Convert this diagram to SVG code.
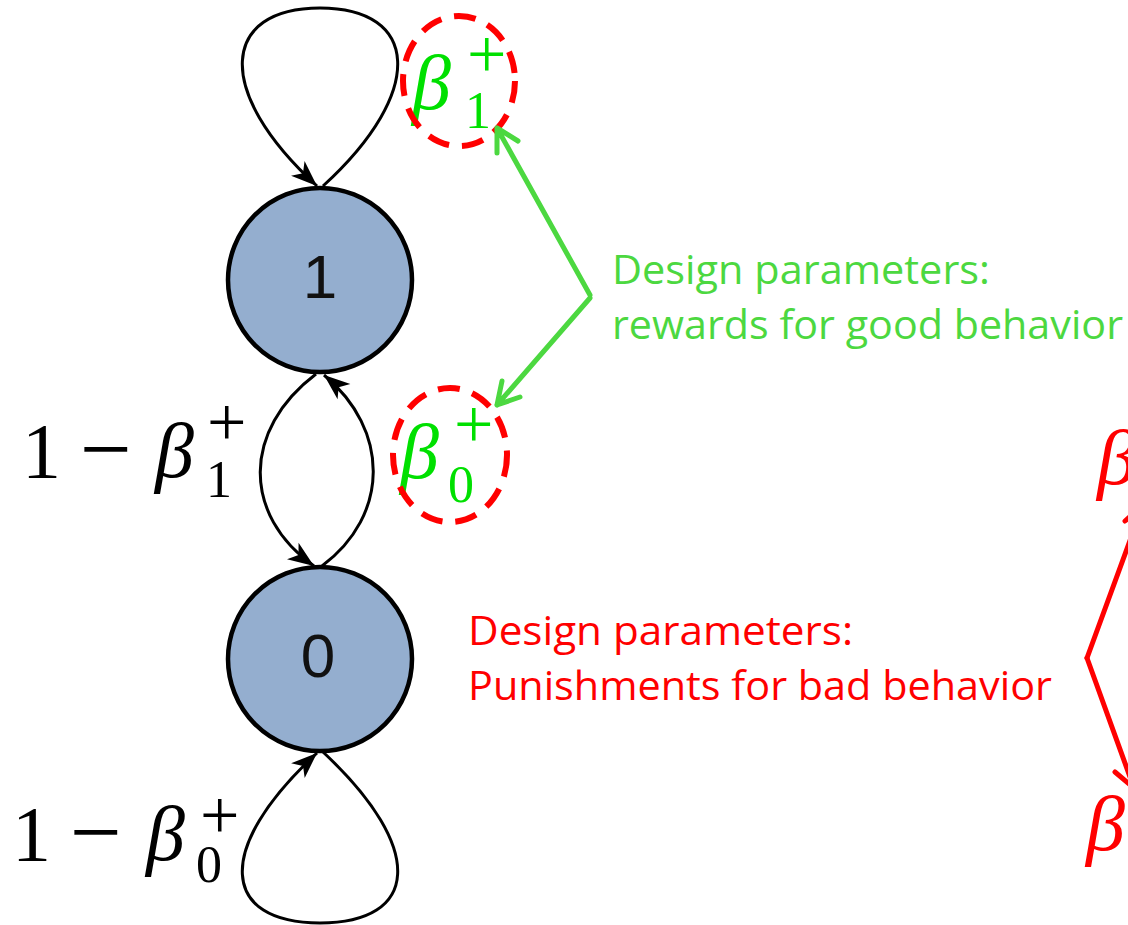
<svg xmlns="http://www.w3.org/2000/svg" width="1128" height="925" viewBox="0 0 1128 925">
  <style>
    .node circle { fill: #94AECF; stroke: #000; stroke-width: 4.5; }
    .node text { font-family: "Liberation Sans", Arial, sans-serif; font-size: 62px; fill: #111; text-anchor: middle; }
    .edge { fill: none; stroke: #000; stroke-width: 3; }
    .tex { font-family: "Liberation Serif", "Times New Roman", serif; fill: #000; }
    .it { font-style: italic; }
    .big { font-size: 78px; }
    .minus { font-size: 92px; }
    .sub { font-size: 52px; }
    .sup { font-size: 70px; }
    .g { fill: #00E000; }
    .r { fill: #FF0000; }
    .ring { fill: none; stroke: #FF0000; stroke-width: 6; stroke-dasharray: 22 13; }
    .note { font-family: "Open Sans", "Noto Sans", sans-serif; font-size: 41px; }
    .gline { stroke: #4CD840; stroke-width: 5; fill: none; stroke-linecap: round; stroke-linejoin: round; }
    .rline { stroke: #FF0000; stroke-width: 5; fill: none; stroke-linecap: round; stroke-linejoin: round; }
  </style>
  <defs>
    <marker id="head" markerUnits="userSpaceOnUse" viewBox="-28 -12 30 24" refX="0" refY="0" markerWidth="30" markerHeight="24" orient="auto">
      <path d="M0,0 L-26,-10 L-19,0 L-26,10 Z" fill="#000"/>
    </marker>
  </defs>

  <!-- state transitions -->
  <g id="connectors">
    <path class="edge" d="M323,186 C428,90 418,8 320,8 C222,8 212,90 317,186" marker-end="url(#head)"/>
    <path class="edge" d="M316,374 C242,430 242,515 314,566" marker-end="url(#head)"/>
    <path class="edge" d="M322,566 C390,515 390,430 324,375" marker-end="url(#head)"/>
    <path class="edge" d="M323,752 C428,850 418,923 320,923 C222,923 212,850 317,753" marker-end="url(#head)"/>
  </g>

  <g id="node-1" class="node">
    <circle cx="320" cy="280" r="92"/>
    <text x="320" y="298">1</text>
  </g>
  <g id="node-0" class="node">
    <circle cx="320" cy="659" r="92"/>
    <text x="318" y="677">0</text>
  </g>

  <!-- transition probability labels -->
  <g id="label-stay-1">
    <text class="tex big" x="22" y="477">1</text>
    <text class="tex minus" x="80" y="480">−</text>
    <text class="tex big it" x="155" y="477">β</text>
    <text class="tex sub" x="206" y="497">1</text>
    <text class="tex sup" x="207" y="446">+</text>
  </g>
  <g id="label-stay-0">
    <text class="tex big" x="12" y="860">1</text>
    <text class="tex minus" x="70" y="863">−</text>
    <text class="tex big it" x="146" y="860">β</text>
    <text class="tex sub" x="196" y="882">0</text>
    <text class="tex sup" x="200" y="839">+</text>
  </g>
  <g id="label-beta1">
    <text class="tex big it g" x="412" y="109">β</text>
    <text class="tex sub g" x="465" y="128">1</text>
    <text class="tex sup g" x="467" y="78">+</text>
    <ellipse class="ring" cx="459" cy="81" rx="56" ry="65"/>
  </g>
  <g id="label-beta0">
    <text class="tex big it g" x="400" y="478">β</text>
    <text class="tex sub g" x="448" y="502">0</text>
    <text class="tex sup g" x="454" y="448">+</text>
    <ellipse class="ring" cx="450" cy="455" rx="57" ry="67"/>
  </g>

  <!-- reward annotation -->
  <g id="rewards">
    <path class="gline" d="M590,295 L497,128 M518,141 L497,128 L497,153"/>
    <path class="gline" d="M590,298 L497,405 M520,397 L497,405 L502,381"/>
    <text class="note" fill="#4CD840" x="612" y="284" textLength="378" lengthAdjust="spacingAndGlyphs">Design parameters:</text>
    <text class="note" fill="#4CD840" x="612" y="339" textLength="511" lengthAdjust="spacingAndGlyphs">rewards for good behavior</text>
  </g>

  <!-- punishment annotation -->
  <g id="punishments">
    <text class="note" fill="#FF0000" x="468" y="645" textLength="385" lengthAdjust="spacingAndGlyphs">Design parameters:</text>
    <text class="note" fill="#FF0000" x="468" y="700" textLength="584" lengthAdjust="spacingAndGlyphs">Punishments for bad behavior</text>
    <path class="rline" d="M1087,658 L1143,505 M1125,521 L1143,505"/>
    <path class="rline" d="M1087,658 L1134,788 M1115,772 L1134,788"/>
    <text class="tex big it r" x="1097" y="484">β</text>
    <text class="tex big it r" x="1086" y="850">β</text>
  </g>
</svg>
